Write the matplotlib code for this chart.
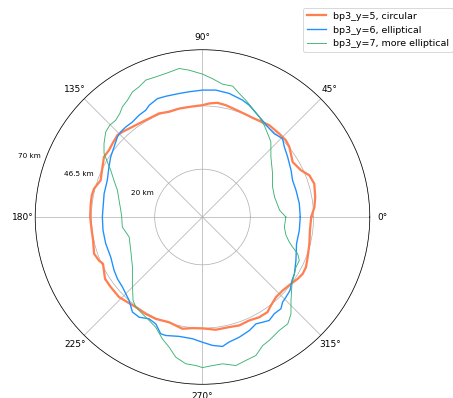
import numpy as np
import matplotlib
matplotlib.use("Agg")
import matplotlib.pyplot as plt
import matplotlib.transforms as mtransforms

# radius (km) vs azimuth (deg)
circ_theta = [0, 5, 10, 16.6, 21.3, 25.4, 31.4, 38.9, 42.6, 47.4,
              54, 58.4, 62.8, 67.4, 72.6, 78.2, 82.5, 86.6, 90, 96.9,
              102.2, 107.6, 112.8, 118.5, 124.2, 129.7, 133.3, 136.1, 140.8, 144.5,
              148.6, 153.4, 160.2, 165.3, 168.9, 173.2, 180, 186.9, 192, 198.7,
              202.8, 205.2, 212.4, 217.4, 223.8, 228.6, 233.5, 239.6, 245.3, 252.4,
              259.8, 264.9, 270, 276.7, 283.6, 288.7, 294.3, 299.5, 304.4, 307.7,
              312.5, 317.5, 323, 327, 330.5, 334.2, 339.1, 346, 352.9, 360]
circ_r = [45.5, 47.0, 47.9, 48.8, 48.0, 45.6, 44.2, 46.7, 47.4, 47.4,
          47.5, 46.9, 46.5, 46.6, 47.0, 47.8, 48.2, 47.6, 46.8, 46.4,
          46.4, 46.2, 47.0, 46.9, 47.3, 48.1, 48.9, 49.4, 48.6, 48.1,
          48.3, 46.8, 45.3, 46.9, 47.2, 47.1, 47.0, 46.7, 46.8, 47.9,
          47.0, 46.0, 48.3, 48.3, 48.4, 47.5, 46.9, 47.0, 46.9, 46.2,
          47.5, 46.7, 46.6, 47.5, 47.4, 47.9, 47.5, 48.2, 48.2, 46.8,
          45.5, 45.5, 46.4, 47.5, 48.2, 48.1, 47.1, 46.1, 45.3, 45.5]

ell_theta = [0, 7.9, 15.9, 22.2, 27.8, 35.2, 40.6, 44.4, 49.3, 53,
             60.5, 67.3, 71.1, 77.8, 84, 90, 96.1, 100.7, 106.9, 110.8,
             115.5, 118, 121.9, 126.4, 130.4, 133.9, 136.7, 141.6, 146.8, 151.8,
             158.9, 166.7, 174.3, 180, 187.6, 195.4, 203.6, 211.1, 216, 221.2,
             228.7, 233.6, 237.7, 242.3, 246.4, 250.3, 252.8, 258.9, 265.3, 270,
             274.5, 278.8, 282, 287, 292.4, 296.6, 299.7, 302.8, 306.6, 310.5,
             313.3, 316.2, 320, 324.7, 328.3, 335.1, 344.2, 352.1, 360]
ell_r = [40.9, 40.9, 40.7, 40.7, 41.9, 43.6, 45.1, 46.9, 46.0, 46.4,
         48.2, 50.7, 51.7, 52.9, 53.4, 53.1, 52.7, 52.6, 52.8, 53.0,
         51.8, 50.6, 50.2, 49.4, 49.5, 49.4, 48.9, 47.2, 45.9, 44.4,
         42.7, 42.3, 41.8, 41.9, 42.0, 42.0, 41.9, 43.2, 44.0, 44.5,
         46.5, 49.4, 49.6, 48.1, 48.8, 51.9, 51.9, 50.9, 51.1, 52.4,
         53.9, 54.8, 53.5, 52.6, 51.4, 50.0, 50.7, 51.5, 50.4, 50.5,
         48.9, 48.4, 47.8, 45.9, 45.2, 43.1, 40.9, 40.9, 40.9]

more_theta = [0, 5, 15.3, 23.2, 31.8, 41.3, 47.7, 52, 56.1, 60.5,
              65.2, 69.6, 73.4, 77, 81.4, 85.8, 90, 95.2, 98.9, 104.3,
              108.4, 112.5, 116, 119.2, 122.7, 126, 128.7, 131.9, 135.3, 138.7,
              143.3, 147.2, 149.9, 153, 157.5, 162.6, 168.7, 175.3, 180, 187.1,
              195.3, 204.9, 215.5, 223.6, 230.2, 233.5, 238.2, 242.7, 247, 251.8,
              255.6, 259.2, 263.5, 267.4, 270, 273.9, 277.8, 282.7, 286.8, 291.1,
              295.1, 298.4, 304.1, 308.6, 312.4, 316.7, 323.3, 328.3, 331.8, 335.8,
              338.9, 341.6, 343.9, 347.6, 353, 360]
more_r = [34.9, 32.4, 31.3, 31.9, 34.5, 38.1, 42.5, 44.3, 46.3, 48.2,
          50.0, 52.1, 53.9, 56.2, 56.2, 58.0, 59.8, 61.7, 62.9, 62.0,
          61.8, 62.0, 60.6, 60.0, 58.1, 57.0, 55.4, 54.4, 54.6, 53.9,
          51.4, 49.0, 46.0, 43.1, 40.1, 37.3, 35.6, 34.3, 33.8, 33.8,
          31.8, 33.1, 36.0, 40.5, 45.4, 46.9, 47.7, 48.7, 50.1, 53.7,
          56.2, 59.7, 61.8, 62.2, 63.0, 62.3, 62.0, 63.7, 62.7, 62.1,
          59.4, 58.7, 57.3, 57.2, 54.9, 50.9, 46.7, 45.2, 44.4, 44.4,
          42.7, 39.7, 37.8, 35.8, 34.5, 34.9]

r_ticks = [20, 46.5, 70]
r_ticklabels = ["20 km", "46.5 km", "70 km"]

DPI = 65
fig = plt.figure(figsize=(453 / DPI, 398 / DPI), dpi=DPI)
ax = fig.add_axes([0.0777, 0.0344, 0.7386, 0.8407], projection="polar")

ax.plot(np.deg2rad(circ_theta), circ_r, color="coral", lw=2.5,
        label="bp3_y=5, circular")
ax.plot(np.deg2rad(ell_theta), ell_r, color="dodgerblue", lw=1.5,
        label="bp3_y=6, elliptical")
ax.plot(np.deg2rad(more_theta), more_r, color="mediumseagreen", lw=1,
        label="bp3_y=7, more elliptical")

ax.set_rmax(70)
ax.set_rticks(r_ticks)
ax.set_yticklabels(r_ticklabels, fontsize=8)
ax.set_rlabel_position(162)

# labels sit to the left of the ring, a bit above it
shift = mtransforms.ScaledTranslation(-3 / DPI, 6 / DPI, fig.dpi_scale_trans)
for lab in ax.get_yticklabels():
    lab.set_horizontalalignment("right")
    lab.set_transform(lab.get_transform() + shift)

fig.legend(loc="upper right", bbox_to_anchor=(1.0, 1 - 8 / 398),
           borderaxespad=0, fontsize=10.5)

plt.savefig("out.png", dpi=DPI)
